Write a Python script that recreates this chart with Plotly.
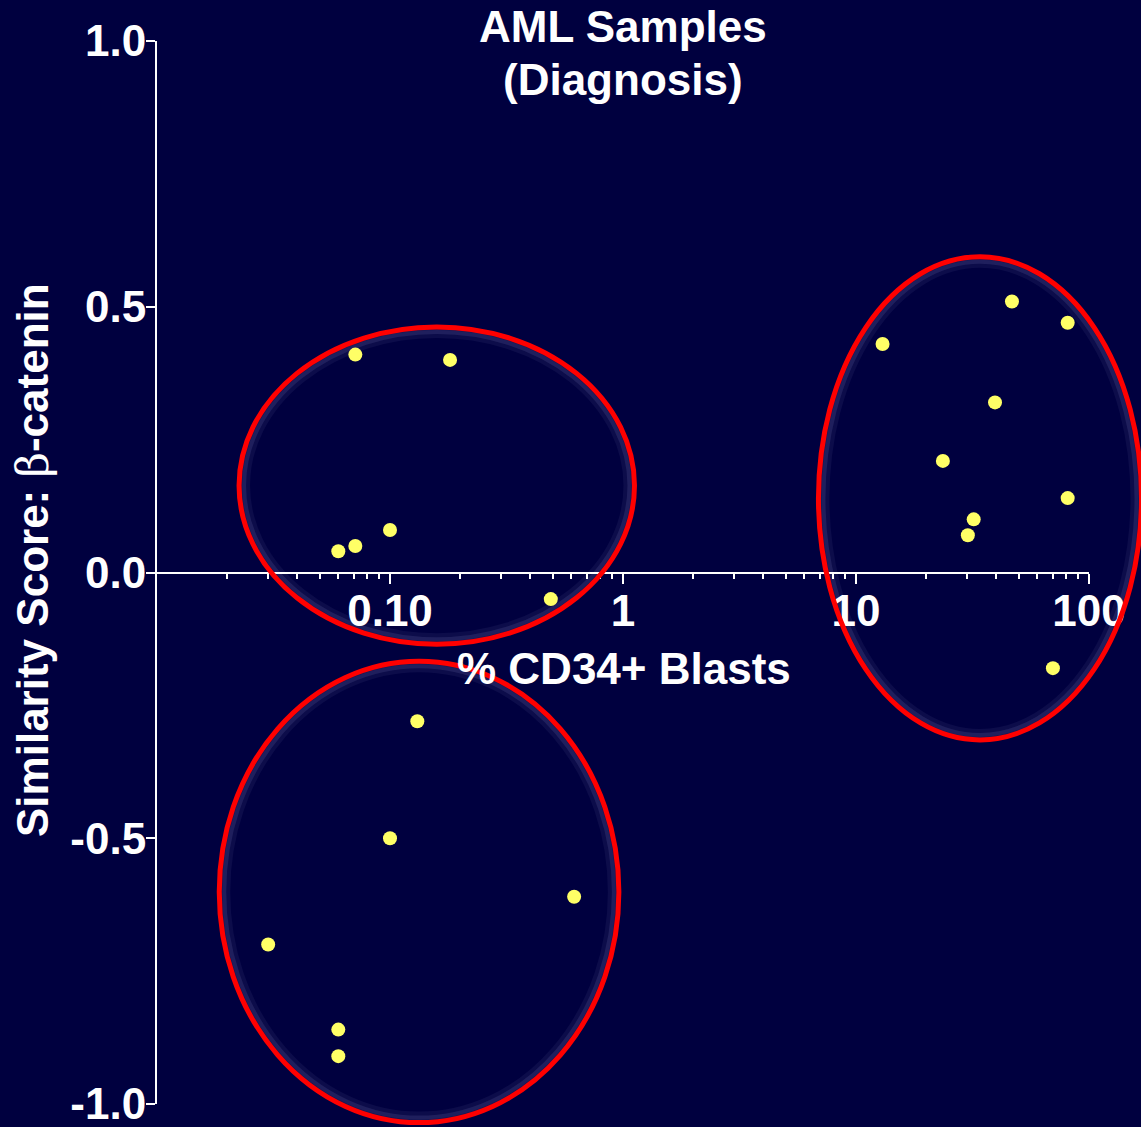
import math
import plotly.graph_objects as go

# ---- data ----
cd34_blasts = [0.071, 0.181, 0.060, 0.071, 0.100, 0.49,
               13.0, 46.7, 81.0, 39.5, 23.6, 32.0, 30.2, 81.0, 70.0,
               0.131, 0.100, 0.617, 0.030, 0.060, 0.060]
similarity = [0.41, 0.40, 0.04, 0.05, 0.08, -0.05,
              0.43, 0.51, 0.47, 0.32, 0.21, 0.10, 0.07, 0.14, -0.18,
              -0.28, -0.50, -0.61, -0.70, -0.86, -0.91]

x_major_vals = [0.1, 1, 10, 100]
x_major_text = ["0.10", "1", "10", "100"]
x_minor_vals = [m * 10 ** e for e in (-2, -1, 0, 1) for m in range(2, 10)]
y_tick_vals = [-1.0, -0.5, 0.0, 0.5, 1.0]
y_tick_text = ["-1.0", "-0.5", "0.0", "0.5", "1.0"]

# cluster outlines: (x_min, x_max, y_min, y_max) in data units
cluster_bounds = [
    (0.0225, 1.12, -0.135, 0.462),
    (6.9, 168.0, -0.315, 0.594),
    (0.0185, 0.96, -1.035, -0.167),
]

X_RANGE_LOG = (-2, 2)
Y_RANGE = (-1, 1)

BG = "#00003f"
FONT = "Liberation Sans, Arial, sans-serif"
PLOT_W, PLOT_H = 932, 1063
M_L, M_T = 157, 41


def to_paper_x(v):
    return (math.log10(v) - X_RANGE_LOG[0]) / (X_RANGE_LOG[1] - X_RANGE_LOG[0])


def to_paper_y(v):
    return (v - Y_RANGE[0]) / (Y_RANGE[1] - Y_RANGE[0])


def px_to_paper_x(p):
    return (p - M_L) / PLOT_W


def px_to_paper_y(p):
    return (M_T + PLOT_H - p) / PLOT_H


fig = go.Figure()
fig.add_trace(go.Scatter(
    x=cd34_blasts, y=similarity, mode="markers",
    marker=dict(size=14, color="#ffff66", line=dict(width=0)),
    cliponaxis=False, showlegend=False,
))

shapes = []
for (x0, x1, y0, y1) in cluster_bounds:
    px0, px1 = to_paper_x(x0), to_paper_x(x1)
    py0, py1 = to_paper_y(y0), to_paper_y(y1)
    for inset, w, c in ((7, 8, "rgba(170,170,230,0.07)"),
                        (4.5, 5, "rgba(170,170,230,0.12)")):
        dx, dy = inset / PLOT_W, inset / PLOT_H
        shapes.append(dict(type="circle", xref="paper", yref="paper",
                           x0=px0 + dx, x1=px1 - dx, y0=py0 + dy, y1=py1 - dy,
                           line=dict(color=c, width=w), layer="below"))
    shapes.append(dict(type="circle", xref="paper", yref="paper",
                       x0=px0, x1=px1, y0=py0, y1=py1,
                       line=dict(color="#ff0000", width=5), layer="above"))

axis_font = dict(family=FONT, size=44, color="white", weight="bold")

fig.update_layout(
    width=1141, height=1127,
    margin=dict(l=157, r=52, t=41, b=23, autoexpand=False),
    paper_bgcolor=BG, plot_bgcolor=BG,
    shapes=shapes,
    xaxis=dict(
        type="log", range=list(X_RANGE_LOG),
        anchor="free", position=0.5, automargin=False,
        showline=True, linecolor="white", linewidth=2,
        showgrid=False, zeroline=False,
        tickmode="array", tickvals=x_major_vals, ticktext=x_major_text,
        ticks="outside", ticklen=10, tickwidth=2, tickcolor="white",
        tickfont=axis_font, ticklabeloverflow="allow", ticklabelstandoff=-10,
        minor=dict(tickmode="array", tickvals=x_minor_vals, ticks="outside",
                   ticklen=5, tickwidth=2, tickcolor="white", showgrid=False),
    ),
    yaxis=dict(
        range=list(Y_RANGE), automargin=False,
        showline=True, linecolor="white", linewidth=2,
        showgrid=False, zeroline=False,
        tickmode="array", tickvals=y_tick_vals, ticktext=y_tick_text,
        ticks="outside", ticklen=9, tickwidth=2, tickcolor="white",
        tickfont=axis_font, ticklabeloverflow="allow", ticklabelstandoff=-9,
    ),
    annotations=[
        dict(text="AML Samples", xref="paper", yref="paper",
             x=0.5, y=px_to_paper_y(27), xanchor="center", yanchor="middle",
             showarrow=False, font=axis_font),
        dict(text="(Diagnosis)", xref="paper", yref="paper",
             x=0.5, y=px_to_paper_y(79), xanchor="center", yanchor="middle",
             showarrow=False, font=axis_font),
        dict(text="% CD34+ Blasts", xref="paper", yref="paper",
             x=px_to_paper_x(624), y=px_to_paper_y(668), xanchor="center", yanchor="middle",
             showarrow=False, font=axis_font),
        dict(text="Similarity Score: <span style=\"font-family:'DejaVu Serif';font-weight:normal\">β</span>-catenin",
             xref="paper", yref="paper", textangle=-90,
             x=px_to_paper_x(32), y=px_to_paper_y(560),
             xanchor="center", yanchor="middle",
             showarrow=False, font=axis_font),
    ],
)

fig.write_html("out.html", config={"displayModeBar": False},
               post_script="document.body.style.margin='0';")
